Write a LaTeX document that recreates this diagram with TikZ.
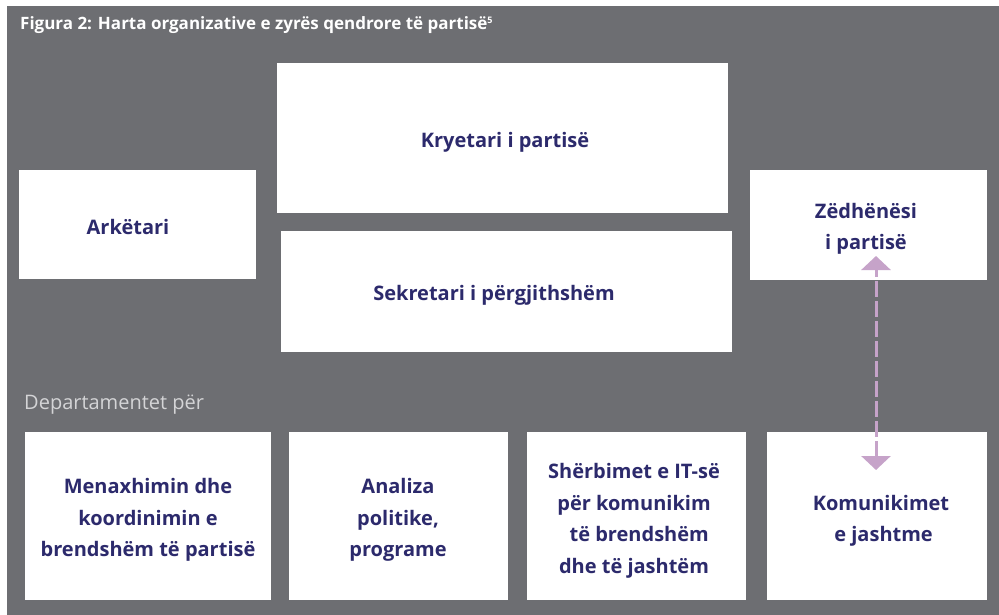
\documentclass[tikz,border=0pt]{standalone}
\usepackage{fontspec}
\setmainfont{Open Sans}
\usetikzlibrary{arrows.meta}
\definecolor{bg}{HTML}{6D6E72}
\definecolor{navy}{HTML}{2C2A6C}
\definecolor{lilac}{HTML}{C6A3C9}
\definecolor{lightgrey}{HTML}{D4D4D6}
\begin{document}
\begin{tikzpicture}[x=1pt,y=-1pt,
  box/.style={fill=white,draw=none},
  lbl/.style={text=navy,font=\fontsize{20}{31.5}\selectfont\bfseries,align=center,inner sep=0pt},
  conn/.style={lilac,line width=3pt,dash pattern=on 16pt off 4pt,{Triangle[width=29pt,length=14pt]}-{Triangle[width=29pt,length=14pt]}}]
\useasboundingbox (0,0) rectangle (999,615);
\fill[bg] (7,6) rectangle (999,615);
\node[anchor=west,text=white,font=\fontsize{17}{17}\selectfont\bfseries,inner sep=0pt] (title) at (20,25) {Figura 2: Harta organizative e zyrës qendrore të partisë\textsuperscript{\fontsize{9}{9}\selectfont 5}};
% boxes
\fill[box] (277,63) rectangle (728,213);
\fill[box] (281,231) rectangle (732,352);
\fill[box] (19,170) rectangle (256,279);
\fill[box] (750,170) rectangle (987,280);
\fill[box] (25,432) rectangle (271,600);
\fill[box] (289,432) rectangle (508,600);
\fill[box] (527,432) rectangle (746,600);
\fill[box] (767,432) rectangle (987,600);
% labels
\node[lbl] (kry) at (505,142) {Kryetari i partisë};
\node[lbl] (sek) at (494,295) {Sekretari i përgjithshëm};
\node[lbl] (ark) at (128,227) {Arkëtari};
\node[lbl] (zed) at (866,229) {Zëdhënësi\\ i partisë};
\node[anchor=west,text=lightgrey,font=\fontsize{20}{20}\selectfont,inner sep=0pt] (dep) at (24,405) {Departamentet për};
\node[lbl] (d1) at (148,520) {Menaxhimin dhe\\koordinimin e\ \ \\ brendshëm të partisë};
\node[lbl] (d2) at (398,520) {Analiza\\ politike,\\ programe};
\node[lbl] (d3) at (634,521) {Shërbimet e IT-së\\ për komunikim\\ \ \ të brendshëm\\ dhe të jashtëm};
\node[lbl] (d4) at (881,521) {Komunikimet\\ \ e jashtme};
% connector
\coordinate (ztop) at (876,256);
\coordinate (zbot) at (876,470);
\draw[conn] (zbot) -- (ztop);
\end{tikzpicture}
\end{document}
